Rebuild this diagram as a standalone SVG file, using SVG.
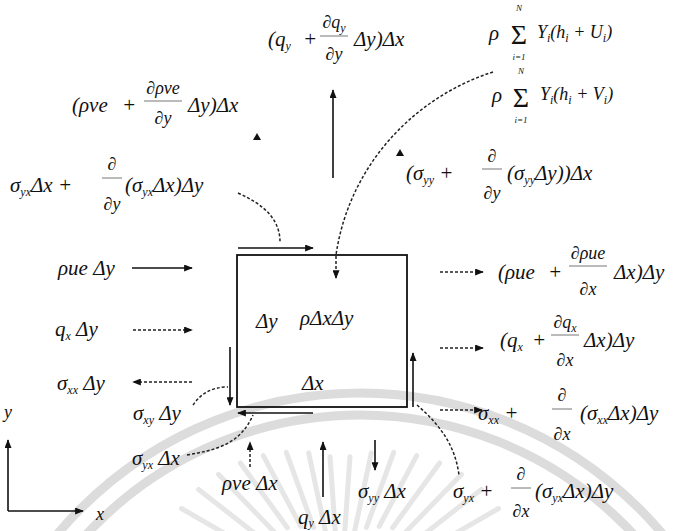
<svg xmlns="http://www.w3.org/2000/svg" width="697" height="531" viewBox="0 0 697 531">
<style>
.m{font-family:"Liberation Serif","DejaVu Serif",serif;font-style:italic;font-size:21px;fill:#111}
.f{font-family:"Liberation Serif","DejaVu Serif",serif;font-style:italic;font-size:18px;fill:#111}
.sg{font-family:"Liberation Serif","DejaVu Serif",serif;font-size:28px;fill:#111}
.lim{font-family:"Liberation Serif","DejaVu Serif",serif;font-style:italic;font-size:9px;fill:#111}
.s{font-size:12px}
.ln{stroke:#111;stroke-width:1.6;fill:none}
.dl{stroke:#222;stroke-width:1.5;fill:none;stroke-dasharray:3 2}
.bar{stroke:#777;stroke-width:1}
.wm{stroke:#dcdcdc;fill:none}
</style>
<defs>
<marker id="ah" viewBox="0 0 10 8" refX="9" refY="4" markerWidth="9" markerHeight="7" markerUnits="userSpaceOnUse" orient="auto">
<path d="M0,0 L10,4 L0,8 Z" fill="#111"/>
</marker>
</defs>
<rect width="697" height="531" fill="#ffffff"/>
<g id="watermark">
<circle class="wm" cx="360" cy="788" r="395" stroke-width="9"/>
<circle class="wm" cx="360" cy="788" r="373" stroke-width="9"/>
<g stroke="#e6e6e6" stroke-width="5" stroke-linecap="round">
<line x1="181.5" y1="508.5" x2="250.8" y2="548.5"/>
<line x1="198.6" y1="489.5" x2="261.7" y2="538.8"/>
<line x1="218.6" y1="474.4" x2="274.2" y2="531.9"/>
<line x1="240.4" y1="463" x2="287.4" y2="527.7"/>
<line x1="263.3" y1="455.6" x2="300.8" y2="526.3"/>
<line x1="286.3" y1="452.3" x2="313.6" y2="527.5"/>
<line x1="308.7" y1="452.9" x2="325.4" y2="531.1"/>
<line x1="330" y1="456.8" x2="335.6" y2="536.6"/>
<line x1="350" y1="456.8" x2="344.4" y2="536.6"/>
<line x1="371.3" y1="452.9" x2="354.6" y2="531.1"/>
<line x1="393.7" y1="452.3" x2="366.4" y2="527.5"/>
<line x1="416.7" y1="455.6" x2="379.2" y2="526.3"/>
<line x1="439.6" y1="463" x2="392.6" y2="527.7"/>
<line x1="461.4" y1="474.4" x2="405.8" y2="531.9"/>
<line x1="481.4" y1="489.5" x2="418.3" y2="538.8"/>
<line x1="498.5" y1="508.5" x2="429.2" y2="548.5"/>
</g>
</g>

<g id="connectors">
<path class="ln" d="M333,178 V90" marker-end="url(#ah)"/>
<path class="ln" d="M238,248 H313" marker-end="url(#ah)"/>
<path class="dl" d="M493,72 C420,95 350,160 336,255 L336,278" marker-end="url(#ah)"/>
<path class="dl" d="M238,193 C265,205 280,220 280,242"/>
<path class="ln" d="M132,268 H192" marker-end="url(#ah)"/>
<path class="dl" d="M133,330 H192" marker-end="url(#ah)"/>
<path class="dl" d="M192,382 H133" marker-end="url(#ah)"/>
<path class="ln" d="M230,347 V405" marker-end="url(#ah)"/>
<path class="dl" d="M193,405 C200,395 210,387 228,387"/>
<path class="ln" d="M313,413 H238" marker-end="url(#ah)"/>
<path class="dl" d="M187,455 C215,450 240,445 253,415"/>
<path class="ln" d="M413,407 V353" marker-end="url(#ah)"/>
<path class="dl" d="M440,272 H483" marker-end="url(#ah)"/>
<path class="dl" d="M440,348 H483" marker-end="url(#ah)"/>
<path class="dl" d="M440,410 H482" marker-end="url(#ah)"/>
<path class="dl" d="M417,405 C440,425 455,445 459,475"/>
<path class="dl" d="M250,467 V442" marker-end="url(#ah)"/>
<path class="ln" d="M323,497 V442" marker-end="url(#ah)"/>
<path class="ln" d="M375,440 V470" marker-end="url(#ah)"/>
<path d="M257,133 L261,140 L253,140 Z" fill="#111"/>
<path d="M400,149 L404,156 L396,156 Z" fill="#111"/>
<path class="ln" d="M8,511 V440" marker-end="url(#ah)"/>
<path class="ln" d="M8,511 H83" marker-end="url(#ah)"/>
</g>

<g id="axis-labels">
<text class="f" x="4" y="418" font-size="14">y</text>
<text class="f" x="96" y="520" font-size="14">x</text>
</g>

<g id="control-volume">
<rect x="237" y="255" width="170" height="152" fill="none" stroke="#111" stroke-width="1.8"/>
<text class="m" x="256" y="328" font-size="30">Δy</text>
<text class="m" x="300" y="325" font-size="13">ρΔxΔy</text>
<text class="m" x="302" y="390" font-size="28">Δx</text>
</g>

<g id="flux-qy-top">
<text class="m" x="268" y="46">(q<tspan class="s" dy="4">y</tspan></text>
<text class="m" x="303" y="46">+</text>
<text class="f" x="334" y="28" text-anchor="middle">∂q<tspan class="s" dy="4">y</tspan></text>
<line class="bar" x1="320" y1="36" x2="348" y2="36"/>
<text class="f" x="334" y="60" text-anchor="middle">∂y</text>
<text class="m" x="354" y="46">Δy)Δx</text>
</g>

<g id="species-u">
<text class="m" x="489" y="40" font-size="24">ρ</text>
<text class="sg" x="519" y="44" text-anchor="middle">Σ</text>
<text class="lim" x="519" y="11" text-anchor="middle">N</text>
<text class="lim" x="519" y="60" text-anchor="middle">i=1</text>
<text class="f" x="537" y="38">Y<tspan class="s" dy="4">i</tspan><tspan dy="-4">(h</tspan><tspan class="s" dy="4">i</tspan><tspan dy="-4"> + U</tspan><tspan class="s" dy="4">i</tspan><tspan dy="-4">)</tspan></text>
</g>

<g id="species-v">
<text class="m" x="492" y="102" font-size="24">ρ</text>
<text class="sg" x="521" y="107" text-anchor="middle">Σ</text>
<text class="lim" x="521" y="74" text-anchor="middle">N</text>
<text class="lim" x="521" y="123" text-anchor="middle">i=1</text>
<text class="f" x="540" y="100">Y<tspan class="s" dy="4">i</tspan><tspan dy="-4">(h</tspan><tspan class="s" dy="4">i</tspan><tspan dy="-4"> + V</tspan><tspan class="s" dy="4">i</tspan><tspan dy="-4">)</tspan></text>
</g>

<g id="flux-rhove-top">
<text class="m" x="72" y="112">(ρve</text>
<text class="m" x="122" y="112">+</text>
<text class="f" x="163" y="94" text-anchor="middle">∂ρve</text>
<line class="bar" x1="144" y1="101" x2="182" y2="101"/>
<text class="f" x="163" y="124" text-anchor="middle">∂y</text>
<text class="m" x="188" y="112">Δy)Δx</text>
</g>

<g id="shear-yx-top">
<text class="m" x="10" y="192">σ<tspan class="s" dy="4">yx</tspan><tspan dy="-4">Δx +</tspan></text>
<text class="f" x="112" y="170" text-anchor="middle">∂</text>
<line class="bar" x1="102" y1="178" x2="122" y2="178"/>
<text class="f" x="112" y="210" text-anchor="middle">∂y</text>
<text class="m" x="125" y="192">(σ<tspan class="s" dy="4">yx</tspan><tspan dy="-4">Δx)Δy</tspan></text>
</g>

<g id="normal-yy-top">
<text class="m" x="406" y="180">(σ<tspan class="s" dy="4">yy</tspan><tspan dy="-4"> +</tspan></text>
<text class="f" x="492" y="162" text-anchor="middle">∂</text>
<line class="bar" x1="482" y1="169" x2="502" y2="169"/>
<text class="f" x="492" y="199" text-anchor="middle">∂y</text>
<text class="m" x="507" y="180">(σ<tspan class="s" dy="4">yy</tspan><tspan dy="-4">Δy))Δx</tspan></text>
</g>

<g id="flux-rhoue-left">
<text class="m" x="58" y="275">ρue Δy</text>
</g>
<g id="flux-qx-left">
<text class="m" x="55" y="336">q<tspan class="s" dy="4">x</tspan><tspan dy="-4"> Δy</tspan></text>
</g>
<g id="normal-xx-left">
<text class="m" x="57" y="390">σ<tspan class="s" dy="4">xx</tspan><tspan dy="-4"> Δy</tspan></text>
</g>
<g id="shear-xy-left">
<text class="m" x="133" y="420">σ<tspan class="s" dy="4">xy</tspan><tspan dy="-4"> Δy</tspan></text>
</g>
<g id="shear-yx-bottom">
<text class="m" x="132" y="465">σ<tspan class="s" dy="4">yx</tspan><tspan dy="-4"> Δx</tspan></text>
</g>

<g id="flux-rhoue-right">
<text class="m" x="498" y="279">(ρue</text>
<text class="m" x="548" y="279">+</text>
<text class="f" x="588" y="259" text-anchor="middle">∂ρue</text>
<line class="bar" x1="569" y1="266" x2="607" y2="266"/>
<text class="f" x="588" y="295" text-anchor="middle">∂x</text>
<text class="m" x="614" y="279" font-size="24">Δx)Δy</text>
</g>

<g id="flux-qx-right">
<text class="m" x="500" y="347">(q<tspan class="s" dy="4">x</tspan></text>
<text class="m" x="532" y="347">+</text>
<text class="f" x="565" y="328" text-anchor="middle">∂q<tspan class="s" dy="4">x</tspan></text>
<line class="bar" x1="551" y1="335" x2="579" y2="335"/>
<text class="f" x="565" y="366" text-anchor="middle">∂x</text>
<text class="m" x="584" y="347">Δx)Δy</text>
</g>

<g id="normal-xx-right">
<text class="m" x="478" y="420">σ<tspan class="s" dy="4">xx</tspan><tspan dy="-4"> +</tspan></text>
<text class="f" x="562" y="401" text-anchor="middle">∂</text>
<line class="bar" x1="552" y1="409" x2="572" y2="409"/>
<text class="f" x="562" y="440" text-anchor="middle">∂x</text>
<text class="m" x="580" y="420">(σ<tspan class="s" dy="4">xx</tspan><tspan dy="-4">Δx)Δy</tspan></text>
</g>

<g id="flux-rhove-bottom">
<text class="m" x="222" y="490">ρve Δx</text>
</g>
<g id="flux-qy-bottom">
<text class="m" x="298" y="524" font-size="18">q<tspan class="s" dy="3">y</tspan><tspan dy="-3"> Δx</tspan></text>
</g>
<g id="normal-yy-bottom">
<text class="m" x="358" y="498">σ<tspan class="s" dy="4">yy</tspan><tspan dy="-4"> Δx</tspan></text>
</g>
<g id="shear-yx-right">
<text class="m" x="453" y="498">σ<tspan class="s" dy="4">yx</tspan><tspan dy="-4"> +</tspan></text>
<text class="f" x="521" y="480" text-anchor="middle">∂</text>
<line class="bar" x1="511" y1="488" x2="531" y2="488"/>
<text class="f" x="521" y="517" text-anchor="middle">∂x</text>
<text class="m" x="535" y="498">(σ<tspan class="s" dy="4">yx</tspan><tspan dy="-4">Δx)Δy</tspan></text>
</g>
</svg>
